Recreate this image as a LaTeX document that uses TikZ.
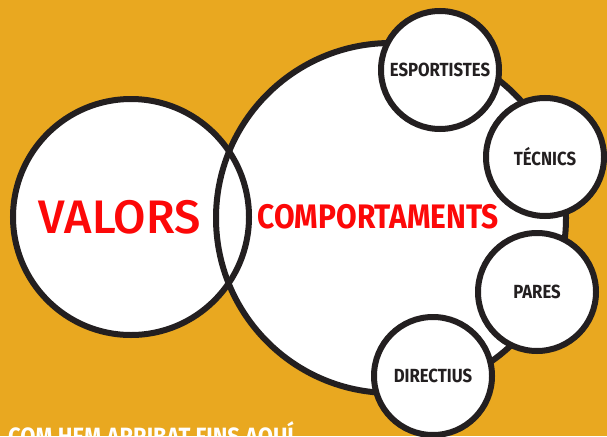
\documentclass[tikz,border=0pt]{standalone}
\usepackage{fontspec}
\usepackage{xcolor}
\usepackage{tikz}
\usetikzlibrary{positioning}
\newfontfamily\dinfont[FakeStretch=0.88]{Fira Sans}
\newfontfamily\dinmig{Fira Sans Medium}
\definecolor{fonsgroc}{RGB}{233,168,32}
\definecolor{vora}{RGB}{35,31,32}
\definecolor{vermell}{RGB}{252,8,8}

\begin{document}
\begin{tikzpicture}[
    x=1pt, y=-1pt,
    gran/.style={circle, fill=white, minimum size=#1, inner sep=0pt},
    vora/.style={circle, draw=vora, line width=6pt, minimum size=#1, inner sep=0pt},
    petit/.style={circle, draw=vora, fill=white, line width=6pt, minimum size=118pt, inner sep=0pt, text=vora, font=\dinfont\bfseries\fontsize{19}{19}\selectfont},
    titol/.style={text=vermell, inner sep=0pt}
]
    \fill[fonsgroc] (0,0) rectangle (607,436);
    \useasboundingbox (0,0) rectangle (607,436);

    % cercles grans
    \node[gran=350pt] (comport) at (391,218) {};
    \node[gran=236pt] (valors) at (131,217) {};
    \node[vora=350pt] at (comport) {};
    \node[vora=236pt] at (valors) {};
    \node[titol, font=\dinmig\fontsize{47}{47}\selectfont] (tvalors) at (120,217) {VALORS};
    \node[titol, font=\dinfont\bfseries\fontsize{34}{34}\selectfont] (tcomport) at (378.5,217) {COMPORTAMENTS};

    % cercles petits
    \node[petit] (esport) at (440,70) {ESPORTISTES};
    \node[petit] (tecnics) at (545,157) {TÉCNICS};
    \node[petit] (pares) at (537,292) {PARES};
    \node[petit] (directius) at (433,376) {DIRECTIUS};

    \node[anchor=base west, text=white, inner sep=0pt, font=\dinfont\bfseries\fontsize{25}{25}\selectfont] (peu) at (8,445) {COM HEM ARRIBAT FINS AQUÍ};
\end{tikzpicture}
\end{document}
